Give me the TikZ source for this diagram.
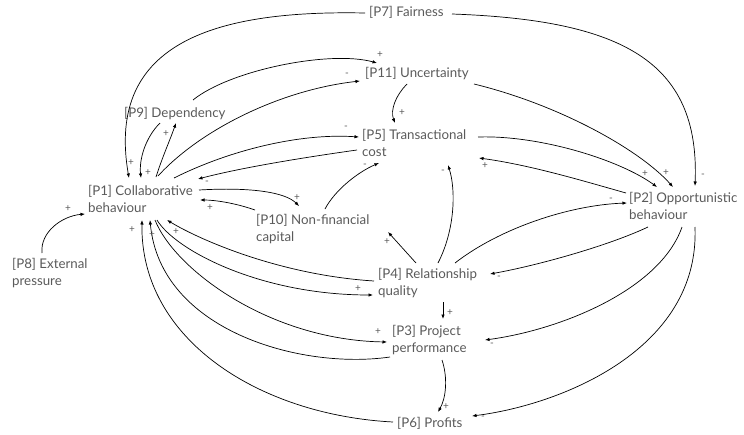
\documentclass[tikz,border=0pt]{standalone}
\usepackage{fontspec}
\setmainfont{Lato}
\usepackage{tikz}
\usetikzlibrary{arrows.meta, calc}
\definecolor{txtgrey}{HTML}{5A5A5A}

\begin{document}
\begin{tikzpicture}[x=1pt, y=-1pt, >={Latex[length=4.5pt,width=3.5pt]},
  var/.style={anchor=north west, inner sep=0pt, align=left, text=txtgrey,
    font=\fontsize{13.3}{17.3}\selectfont},
  pm/.style={text=txtgrey, inner sep=0pt, font=\fontsize{10}{10}\selectfont},
  lnk/.style={->, line width=0.7pt}]
  \useasboundingbox (0,0) rectangle (744,434);

  \node[var] (p7) at (369,6) {[P7] Fairness};
  \node[var] (p11) at (365,67) {[P11] Uncertainty};
  \node[var] (p9) at (124,107) {[P9] Dependency};
  \node[var] (p5) at (362,129) {[P5] Transactional\\cost};
  \node[var] (p1) at (88,185) {[P1] Collaborative\\behaviour};
  \node[var] (p10) at (256,214) {[P10] Non-financial\\capital};
  \node[var] (p2) at (629,192) {[P2] Opportunistic\\behaviour};
  \node[var] (p8) at (12,258) {[P8] External\\pressure};
  \node[var] (p4) at (378,268) {[P4] Relationship\\quality};
  \node[var] (p3) at (392,325) {[P3] Project\\performance};
  \node[var] (p6) at (397,417) {[P6] Profits};

  \draw[lnk] ($(p7.north west)+(-4,7)$) .. controls +(-145,-3) and +(-24,-138) .. ($(p1.north west)+(41,-7)$);
  \draw[lnk] ($(p7.north west)+(83,8)$) .. controls +(168,6) and +(5,-126) .. ($(p2.north west)+(66,-6)$);
  \draw[lnk] ($(p9.north west)+(69,-7)$) .. controls +(37,-30) and +(-47,-13) .. ($(p11.north west)+(12,-4)$);
  \draw[lnk] ($(p1.north west)+(70,-9)$) .. controls +(42,-46) and +(-80,9) .. ($(p11.north west)+(-5,14)$);
  \draw[lnk] ($(p1.north west)+(68,-8)$) .. controls +(6,-19) and +(-6,17) .. ($(p9.north west)+(52,16)$);
  \draw[lnk] ($(p9.north west)+(36,16)$) .. controls +(-15,15) and +(-2,-18) .. ($(p1.north west)+(53,-7)$);
  \draw[lnk] ($(p11.north west)+(42,17)$) .. controls +(-11,11) and +(-5,-13) .. ($(p5.north west)+(33,-6)$);
  \draw[lnk] ($(p11.north west)+(109,17)$) .. controls +(86,21) and +(-33,-37) .. ($(p2.north west)+(44,-5)$);
  \draw[lnk] ($(p5.north west)+(116,8)$) .. controls +(62,-2) and +(-37,-27) .. ($(p2.north west)+(28,-5)$);
  \draw[lnk] ($(p2.north west)+(-3,1)$) .. controls +(-46,-13) and +(51,7) .. ($(p5.north west)+(117,29)$);
  \draw[lnk] ($(p1.north west)+(86,-7)$) .. controls +(56,-28) and +(-59,-4) .. ($(p5.north west)+(-3,8)$);
  \draw[lnk] ($(p5.north west)+(-5,21)$) .. controls +(-57,8) and +(42,-11) .. ($(p1.north west)+(110,-6)$);
  \draw[lnk] ($(p1.north west)+(111,5)$) .. controls +(51,-3) and +(-14,-14) .. ($(p10.north west)+(43,-8)$);
  \draw[lnk] ($(p10.north west)+(-1,-4)$) .. controls +(-20,-7) and +(15,0) .. ($(p1.north west)+(112,15)$);
  \draw[lnk] ($(p10.north west)+(69,-5)$) .. controls +(10,-19) and +(-21,9) .. ($(p5.north west)+(17,34)$);
  \draw[lnk] ($(p8.north west)+(30,-5)$) .. controls +(-2,-21) and +(-23,2) .. ($(p1.north west)+(-3,29)$);
  \draw[lnk] ($(p4.north west)+(-4,13)$) .. controls +(-94,-6) and +(33,20) .. ($(p1.north west)+(79,35)$);
  \draw[lnk] ($(p1.north west)+(69,35)$) .. controls +(18,30) and +(-113,0) .. ($(p4.north west)+(-5,27)$);
  \draw[lnk] ($(p1.north west)+(67,35)$) .. controls +(20,50) and +(-117,-2) .. ($(p3.north west)+(-5,17)$);
  \draw[lnk] ($(p3.north west)+(-2,32)$) .. controls +(-90,13) and +(10,110) .. ($(p1.north west)+(62,35)$);
  \draw[lnk] ($(p6.north west)+(-4,5)$) .. controls +(-133,-7) and +(-2,120) .. ($(p1.north west)+(54,35)$);
  \draw[lnk] ($(p4.north west)+(38,-5)$) -- ($(p10.north west)+(132,18)$);
  \draw[lnk] ($(p4.north west)+(60,-5)$) .. controls +(17,-33) and +(8,25) .. ($(p5.north west)+(86,36)$);
  \draw[lnk] ($(p4.north west)+(77,-5)$) .. controls +(45,-35) and +(-57,2) .. ($(p2.north west)+(-2,11)$);
  \draw[lnk] ($(p2.north west)+(19,35)$) .. controls +(-38,18) and +(50,-9) .. ($(p4.north west)+(112,6)$);
  \draw[lnk] ($(p4.north west)+(65,34)$) -- ($(p3.north west)+(51,-6)$);
  \draw[lnk] ($(p2.north west)+(53,35)$) .. controls +(-22,63) and +(75,-10) .. ($(p3.north west)+(93,15)$);
  \draw[lnk] ($(p3.north west)+(50,35)$) .. controls +(6,18) and +(8,-14) .. ($(p6.north west)+(41,-5)$);
  \draw[lnk] ($(p2.north west)+(66,35)$) .. controls +(5,123) and +(88,-11) .. ($(p6.north west)+(75,-1)$);

  % polarity signs
  \foreach \n/\x/\y/\s in {1/131/163/+, 2/703/176/-, 3/380/55/+, 4/347/75/-, 5/166/134/+,
      6/148/173/+, 7/402/113/+, 8/666/173/+, 9/645/174/+, 10/485/166/+, 11/346/128/-,
      12/207/183/-, 13/297/198/+, 14/210/208/+, 15/365/166/-, 16/68/209/+, 17/176/232/+,
      18/358/289/+, 19/378/332/+, 20/152/235/+, 21/132/230/+, 22/387/242/+, 23/443/172/-,
      24/611/200/-, 25/499/278/-, 26/450/313/+, 27/492/345/-, 28/446/407/+, 29/483/418/-}
    \node[pm] (s\n) at (\x,\y) {\s};
\end{tikzpicture}
\end{document}
